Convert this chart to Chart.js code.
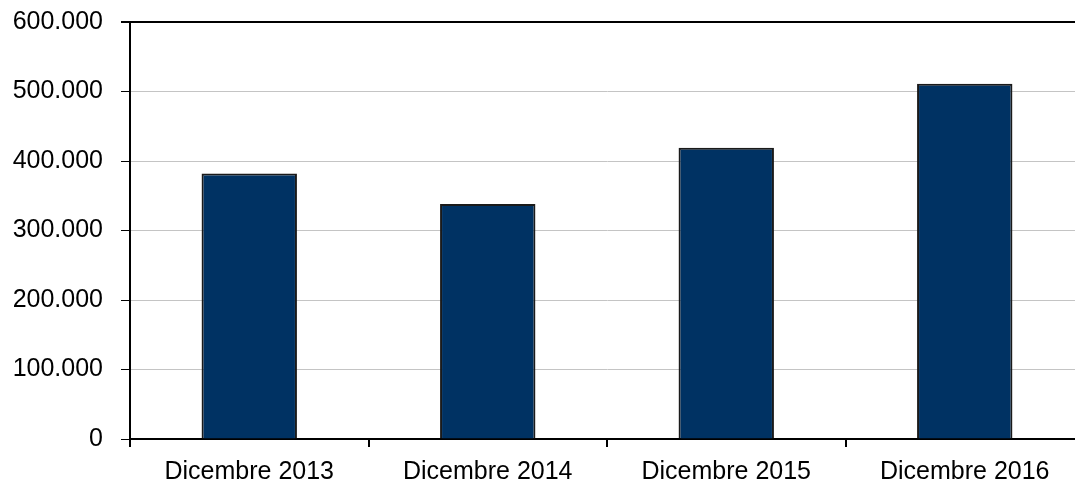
<!DOCTYPE html>
<html>
<head>
<meta charset="utf-8">
<script src="https://cdn.jsdelivr.net/npm/chart.js@4"></script>
<style>
  html, body { margin: 0; padding: 0; background: #fff; overflow: hidden; }
  #wrap { width: 1084px; height: 488px; }
</style>
</head>
<body>
<div id="wrap"><canvas id="barChart"></canvas></div>
<script>
// Data
const categories = ['Dicembre 2013', 'Dicembre 2014', 'Dicembre 2015', 'Dicembre 2016'];
const values = [382000, 338000, 419000, 511000];
const yMax = 600000;
const yStep = 100000;

// 600000 -> "600.000"
function formatIt(v) {
    return String(v).replace(/\B(?=(\d{3})+(?!\d))/g, '.');
}

const ctx = document.getElementById('barChart').getContext('2d');
new Chart(ctx, {
    type: 'bar',
    data: {
        labels: categories,
        datasets: [{
            data: values,
            backgroundColor: '#003263',
            borderColor: '#1a1a1a',
            borderWidth: 2,
            categoryPercentage: 1,
            barPercentage: 0.4
        }]
    },
    options: {
        responsive: true,
        maintainAspectRatio: false,
        animation: false,
        layout: { padding: { top: 22, left: 0, right: 0, bottom: 0 } },
        plugins: {
            legend: { display: false },
            tooltip: { enabled: false }
        },
        scales: {
            y: {
                min: 0,
                max: yMax,
                ticks: {
                    stepSize: yStep,
                    padding: 18,
                    color: '#000',
                    font: { family: 'Liberation Sans, Arial, sans-serif', size: 25 },
                    callback: (v) => formatIt(v)
                },
                grid: {
                    color: (c) => (c.tick && c.tick.value === yMax) ? '#000' : '#c4c4c4',
                    lineWidth: (c) => (c.tick && c.tick.value === yMax) ? 2 : 1,
                    tickColor: '#000',
                    tickLength: 9
                },
                border: { color: '#000', width: 2 },
                afterFit: (scale) => {
                    scale.width = 130;
                    scale.paddingTop = 0;
                    scale.paddingBottom = 0;
                }
            },
            x: {
                ticks: {
                    padding: 10,
                    color: '#000',
                    font: { family: 'Liberation Sans, Arial, sans-serif', size: 25 }
                },
                grid: {
                    offset: true,
                    drawOnChartArea: false,
                    tickColor: '#000',
                    tickLength: 8,
                    lineWidth: 2
                },
                border: { color: '#000', width: 2 },
                afterFit: (scale) => { scale.height = 49; }
            }
        }
    }
});
</script>
</body>
</html>
